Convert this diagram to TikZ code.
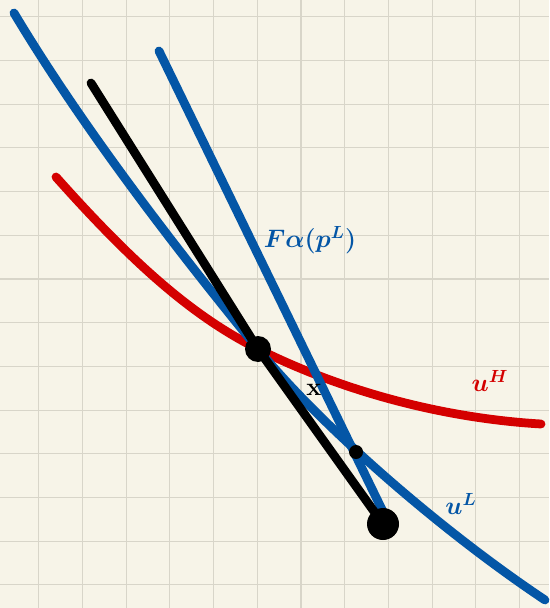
\documentclass[tikz,border=0pt]{standalone}
\usepackage{tikz}
\definecolor{paper}{HTML}{F7F4E8}
\definecolor{gridgray}{HTML}{D8D5C9}
\definecolor{ublue}{HTML}{0456A6}
\definecolor{ured}{HTML}{D40000}
\tikzset{
  curve/.style={line width=5pt, line cap=round},
  dotmark/.style={circle, fill=black, inner sep=0pt},
  lbl/.style={font=\Large\boldmath}
}
\begin{document}
\begin{tikzpicture}[x=0.02cm, y=-0.02cm]
\fill[paper] (0,0) rectangle (549,608);
\useasboundingbox (0,0) rectangle (549,608);
\foreach \i in {0,...,11} \draw[gridgray, line width=0.6pt] ({38.8+43.7*\i},0) -- ({38.8+43.7*\i},608);
\foreach \j in {0,...,13} \draw[gridgray, line width=0.6pt] (0,{16.8+43.7*\j}) -- (549,{16.8+43.7*\j});
\coordinate (blackstart) at (91,83);
\coordinate (folstart) at (159,51);
\coordinate (folend) at (390,526);
\coordinate (tangency) at (258,349);
\coordinate (endpt) at (383,524);
\coordinate (cross) at (356,452);
% indifference curves
\draw[ured, curve] (56,177) .. controls (130,260) and (190,315) .. (tangency)
  .. controls (340,390) and (440,418) .. (541,424);
\draw[ublue, curve] (14,13) .. controls (90,140) and (195,272) .. (tangency)
  .. controls (320,425) and (440,530) .. (545,600);
\draw[ublue, curve] (folstart) -- (folend);
\draw[black, curve, line join=round] (blackstart) -- (tangency) -- (endpt);
\node[dotmark, minimum size=0.52cm] (tangdot) at (tangency) {};
\node[dotmark, minimum size=0.64cm] (enddot) at (endpt) {};
\node[dotmark, minimum size=0.28cm] (crossdot) at (cross) {};
\node[font=\bfseries\Large] (xmark) at (314,390) {x};
\node[lbl, ublue] (folbl) at (310,240) {$F\alpha(p^L)$};
\node[lbl, ured] (uhlbl) at (490,381) {$u^H$};
\node[lbl, ublue] (ullbl) at (461,504) {$u^L$};
\end{tikzpicture}
\end{document}
